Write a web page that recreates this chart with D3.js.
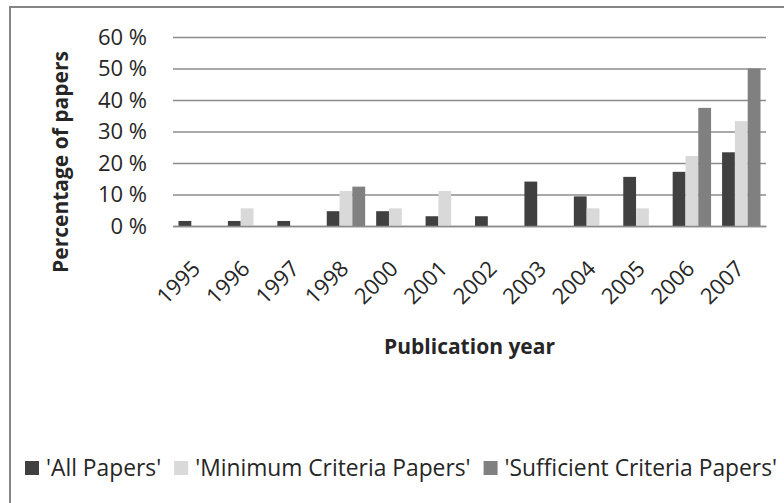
<!DOCTYPE html>
<html>
<head>
<meta charset="utf-8">
<script src="https://cdn.jsdelivr.net/npm/d3@7"></script>
<style>
  html, body { margin: 0; padding: 0; background: #fff; }
  svg { display: block; font-family: "Open Sans", sans-serif; }
</style>
</head>
<body>
<svg id="chart" width="784" height="503"></svg>
<script>
// ---- data ----
const years = ["1995","1996","1997","1998","2000","2001","2002","2003","2004","2005","2006","2007"];
const allPapers = [1.6, 1.6, 1.6, 4.7, 4.7, 3.1, 3.1, 14.1, 9.4, 15.6, 17.2, 23.4];
const minimumCriteriaPapers = [0, 5.6, 0, 11.1, 5.6, 11.1, 0, 0, 5.6, 5.6, 22.2, 33.3];
const sufficientCriteriaPapers = [0, 0, 0, 12.5, 0, 0, 0, 0, 0, 0, 37.5, 50];
const seriesNames = ["'All Papers'", "'Minimum Criteria Papers'", "'Sufficient Criteria Papers'"];
const seriesColors = ["#404040", "#d9d9d9", "#808080"];
const yTicks = [0, 10, 20, 30, 40, 50, 60];
const yTitle = "Percentage of papers";
const xTitle = "Publication year";

const seriesValues = [allPapers, minimumCriteriaPapers, sufficientCriteriaPapers];

const svg = d3.select("#chart");

// chart border
svg.append("rect")
  .attr("x", 10).attr("y", 7)
  .attr("width", 800).attr("height", 520)
  .attr("fill", "#fff")
  .attr("stroke", "#868686").attr("stroke-width", 2);

const plot = { left: 173, right: 766, top: 37, bottom: 226 };

const x = d3.scaleBand()
  .domain(years)
  .range([plot.left, plot.right])
  .paddingInner(0.2227)
  .paddingOuter(0.1113);

const xs = d3.scaleBand()
  .domain(d3.range(seriesValues.length))
  .range([0, x.bandwidth()]);

const y = d3.scaleLinear().domain([0, 60]).range([plot.bottom, plot.top]);

// y axis with gridlines
const yAxis = svg.append("g")
  .attr("transform", `translate(${plot.left},0)`)
  .call(d3.axisLeft(y)
    .tickValues(yTicks)
    .tickSize(-(plot.right - plot.left))
    .tickPadding(26)
    .tickFormat(d => d + " %"));
yAxis.select(".domain").remove();
yAxis.selectAll(".tick line").attr("stroke", "#8c8c8c").attr("stroke-width", 1.3);
yAxis.selectAll(".tick text")
  .attr("fill", "#262626")
  .style("font-size", "22px")
  .style("font-family", "'Open Sans', sans-serif");

// bars
const groups = svg.append("g").selectAll("g")
  .data(years)
  .join("g")
  .attr("transform", d => `translate(${x(d)},0)`);

groups.selectAll("rect")
  .data((d, i) => seriesValues.map((vals, s) => ({ s, v: vals[i] })).filter(e => e.v > 0))
  .join("rect")
  .attr("x", d => xs(d.s))
  .attr("width", xs.bandwidth())
  .attr("y", d => y(d.v))
  .attr("height", d => y(0) - y(d.v))
  .attr("fill", d => seriesColors[d.s]);

// x axis
const xAxis = svg.append("g")
  .attr("transform", `translate(0,${plot.bottom})`)
  .call(d3.axisBottom(x).tickSize(0).tickSizeOuter(0).tickPadding(0));
xAxis.select(".domain").attr("stroke", "#8c8c8c").attr("stroke-width", 1.3);
xAxis.selectAll(".tick text")
  .attr("fill", "#262626")
  .attr("text-anchor", "end")
  .attr("dy", 0)
  .attr("y", 0)
  .attr("transform", "translate(4,44) rotate(-45)")
  .style("font-size", "22px")
  .style("font-family", "'Open Sans', sans-serif");

// axis titles
svg.append("text")
  .attr("transform", "translate(68,162) rotate(-90)")
  .attr("text-anchor", "middle")
  .attr("font-weight", "bold")
  .attr("font-size", 21)
  .attr("fill", "#262626")
  .text(yTitle);

svg.append("text")
  .attr("x", (plot.left + plot.right) / 2)
  .attr("y", 354)
  .attr("text-anchor", "middle")
  .attr("font-weight", "bold")
  .attr("font-size", 21)
  .attr("fill", "#262626")
  .text(xTitle);

// legend
const legend = svg.append("g");
let lx = 25;
seriesNames.forEach((name, i) => {
  legend.append("rect")
    .attr("x", lx).attr("y", 461)
    .attr("width", 14).attr("height", 14)
    .attr("fill", seriesColors[i]);
  const t = legend.append("text")
    .attr("x", lx + 21).attr("y", 476)
    .attr("font-size", 22.8)
    .attr("fill", "#262626")
    .text(name);
  lx += 21 + t.node().getComputedTextLength() + 13;
});
</script>
</body>
</html>
